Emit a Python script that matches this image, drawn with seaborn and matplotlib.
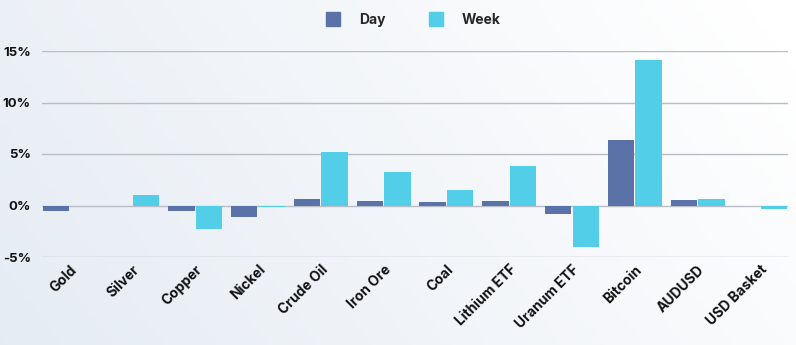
import numpy as np
import pandas as pd
import matplotlib
matplotlib.use("Agg")
import matplotlib.pyplot as plt
import seaborn as sns
from matplotlib.lines import Line2D

categories = ["Gold", "Silver", "Copper", "Nickel", "Crude Oil", "Iron Ore", "Coal",
              "Lithium ETF", "Uranum ETF", "Bitcoin", "AUDUSD", "USD Basket"]
day_values = [-0.5, 0.0, -0.55, -1.15, 0.6, 0.4, 0.35, 0.45, -0.8, 6.35, 0.5, -0.05]
week_values = [-0.05, 1.0, -2.25, -0.15, 5.2, 3.25, 1.55, 3.85, -4.0, 14.1, 0.65, -0.3]
series_names = ["Day", "Week"]
ytick_values = [-5, 0, 5, 10, 15]
ytick_labels = ["-5%", "0%", "5%", "10%", "15%"]

df = pd.DataFrame({
    "category": categories * 2,
    "value": day_values + week_values,
    "series": [series_names[0]] * len(categories) + [series_names[1]] * len(categories),
})

sns.set_theme(style="white")
plt.rcParams["font.family"] = ["Inter", "DejaVu Sans"]

fig = plt.figure(figsize=(7.96, 3.45), dpi=100)

# background gradient
bg = fig.add_axes([0, 0, 1, 1], zorder=-10)
xx, yy = np.meshgrid(np.linspace(0, 1, 200), np.linspace(0, 1, 100))
t = np.clip(xx * 0.8 + (1 - yy) * 0.25, 0, 1)
c0 = np.array([0.90, 0.925, 0.955])
c1 = np.array([1.0, 1.0, 1.0])
img = c0[None, None, :] * (1 - t[..., None]) + c1[None, None, :] * t[..., None]
bg.imshow(img, aspect="auto", extent=[0, 1, 0, 1], origin="upper")
bg.axis("off")

ax = fig.add_axes([42 / 796, 1 - 257 / 345, (788 - 42) / 796, (257 - 51) / 345])
ax.patch.set_alpha(0)

palette = {"Day": "#5A72A8", "Week": "#52CEE8"}
sns.barplot(data=df, x="category", y="value", hue="series", palette=palette,
            order=categories, hue_order=series_names, width=0.88, gap=0.05,
            saturation=1, ax=ax, legend=False, zorder=3, linewidth=0, edgecolor="none")

ax.set_xlim(-0.44, 11.44)
ax.set_ylim(-5, 15)
ax.set_yticks(ytick_values)
ax.set_yticklabels(ytick_labels, fontsize=9.5, fontweight="bold", color="#111111")
ax.yaxis.grid(True, color="#b9bdc5", linewidth=1, zorder=0)
ax.xaxis.grid(False)
ax.set_xlabel("")
ax.set_ylabel("")
for s in ax.spines.values():
    s.set_visible(False)
ax.tick_params(axis="both", length=0)
ax.tick_params(axis="y", pad=8)
ax.tick_params(axis="x", pad=4)
ax.set_xticks(range(len(categories)))
ax.set_xticklabels(categories, rotation=45, ha="right", rotation_mode="anchor",
                   fontsize=10, fontweight="bold", color="#111111")

handles = [Line2D([0], [0], marker="s", linestyle="none", markersize=9.5,
                  markerfacecolor=palette[n], markeredgecolor=palette[n]) for n in series_names]
fig.legend(handles, series_names, loc="center", bbox_to_anchor=(0.515, 1 - 20 / 345),
           ncol=2, frameon=False, handletextpad=0.9, columnspacing=2.6,
           prop={"weight": "bold", "size": 10})

fig.savefig("out.png", dpi=100)
